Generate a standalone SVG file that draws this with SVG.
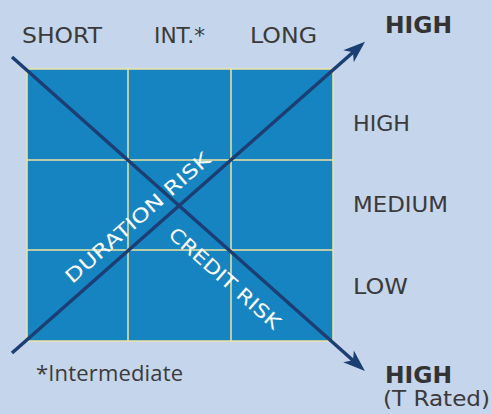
<svg xmlns="http://www.w3.org/2000/svg" width="492" height="414" viewBox="0 0 492 414">
<style>
.lbl{font-family:"DejaVu Sans","Open Sans",sans-serif;font-size:21px;fill:#3a3a3a}
.os{font-family:"Open Sans","Liberation Sans",sans-serif;font-size:22px;fill:#3a3a3a}
.bold{font-family:"DejaVu Sans","Open Sans",sans-serif;font-size:23px;font-weight:bold;fill:#333333}
.risk{font-family:"DejaVu Sans","Open Sans",sans-serif;font-size:19px;fill:#ffffff}
.cell{fill:#1784c2;stroke:#f0e4a2;stroke-width:1.5}
.arrow{stroke:#1b3f73;stroke-width:3.5;fill:none}
</style>
<defs>
<marker id="ah" markerUnits="userSpaceOnUse" markerWidth="30" markerHeight="20" viewBox="-10 -10 30 20" refX="0" refY="0" orient="auto" overflow="visible">
<path d="M14,0 L-8,-8 L-2,0 L-8,8 Z" fill="#1b3f73"/>
</marker>
</defs>
<rect x="0" y="0" width="492" height="414" fill="#c5d5eb"/>
<g id="grid">
<rect class="cell" x="27" y="69" width="306" height="272"/>
<line x1="128" y1="69" x2="128" y2="341" stroke="#f0e4a2" stroke-width="1.5"/>
<line x1="231" y1="69" x2="231" y2="341" stroke="#f0e4a2" stroke-width="1.5"/>
<line x1="27" y1="160" x2="333" y2="160" stroke="#f0e4a2" stroke-width="1.5"/>
<line x1="27" y1="250" x2="333" y2="250" stroke="#f0e4a2" stroke-width="1.5"/>
</g>
<g id="connectors">
<line class="arrow" x1="12" y1="57" x2="354.5" y2="361.7" marker-end="url(#ah)"/>
<line class="arrow" x1="12" y1="353" x2="354.5" y2="51" marker-end="url(#ah)"/>
</g>
<g id="col-labels">
<text class="lbl" x="22" y="43" textLength="80" lengthAdjust="spacingAndGlyphs">SHORT</text>
<text class="lbl" x="154" y="43" textLength="51" lengthAdjust="spacingAndGlyphs">INT.*</text>
<text class="lbl" x="250" y="43" textLength="67" lengthAdjust="spacingAndGlyphs">LONG</text>
</g>
<g id="high-top"><text class="bold" x="385" y="33" textLength="67" lengthAdjust="spacingAndGlyphs">HIGH</text></g>
<g id="row-labels">
<text class="lbl" x="353" y="131" textLength="57" lengthAdjust="spacingAndGlyphs">HIGH</text>
<text class="lbl" x="353" y="212" textLength="95" lengthAdjust="spacingAndGlyphs">MEDIUM</text>
<text class="lbl" x="353" y="294" textLength="55" lengthAdjust="spacingAndGlyphs">LOW</text>
</g>
<g id="duration-risk"><text class="risk" transform="translate(137.5,217.5) rotate(-41.4)" x="0" y="7" text-anchor="middle" textLength="186" lengthAdjust="spacingAndGlyphs">DURATION RISK</text></g>
<g id="credit-risk"><text class="risk" transform="translate(225,278) rotate(41.6)" x="0" y="7" text-anchor="middle" textLength="142" lengthAdjust="spacingAndGlyphs">CREDIT RISK</text></g>
<g id="footnote"><text class="os" x="36" y="381" textLength="147">*Intermediate</text></g>
<g id="high-bottom">
<text class="bold" x="385" y="383" textLength="67" lengthAdjust="spacingAndGlyphs">HIGH</text>
<text class="lbl" x="383" y="406" textLength="107" lengthAdjust="spacingAndGlyphs">(T Rated)</text>
</g>
</svg>
